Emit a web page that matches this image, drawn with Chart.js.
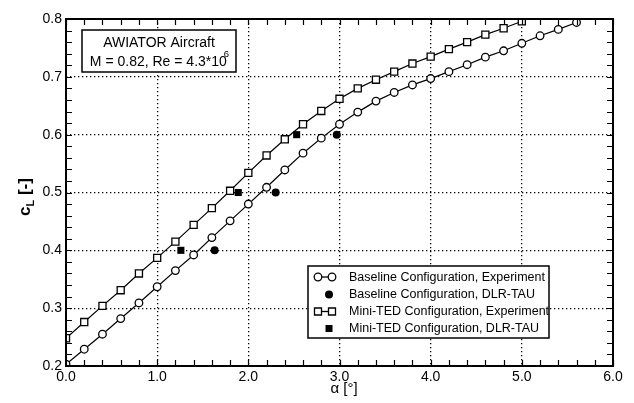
<!DOCTYPE html>
<html>
<head>
<meta charset="utf-8">
<script src="https://cdn.jsdelivr.net/npm/chart.js@4.4.0/dist/chart.umd.min.js"></script>
<style>
  html, body { margin: 0; padding: 0; background: #fff; }
  #wrap { width: 634px; height: 403px; }
</style>
</head>
<body>
<div id="wrap"><canvas id="cl-chart"></canvas></div>
<script>
// angle of attack [deg] and lift coefficient
const baseAlpha = [0.0, 0.2, 0.4, 0.6, 0.8, 1.0, 1.2, 1.4, 1.6, 1.8, 2.0, 2.2, 2.4, 2.6, 2.8,
                   3.0, 3.2, 3.4, 3.6, 3.8, 4.0, 4.2, 4.4, 4.6, 4.8, 5.0, 5.2, 5.4, 5.6];
const baseCL = [0.203, 0.229, 0.255, 0.282, 0.309, 0.337, 0.365, 0.392, 0.422, 0.451, 0.480, 0.509, 0.539, 0.568, 0.594,
                0.618, 0.639, 0.658, 0.673, 0.686, 0.697, 0.709, 0.721, 0.734, 0.745, 0.758, 0.771, 0.782, 0.794];

const tedAlpha = [0.0, 0.2, 0.4, 0.6, 0.8, 1.0, 1.2, 1.4, 1.6, 1.8, 2.0, 2.2, 2.4, 2.6, 2.8,
                  3.0, 3.2, 3.4, 3.6, 3.8, 4.0, 4.2, 4.4, 4.6, 4.8, 5.0];
const tedCL = [0.248, 0.276, 0.304, 0.331, 0.360, 0.387, 0.415, 0.444, 0.473, 0.503, 0.534, 0.564, 0.592, 0.618, 0.641,
               0.662, 0.680, 0.695, 0.709, 0.723, 0.735, 0.748, 0.760, 0.773, 0.784, 0.796];

const baseTauAlpha = [1.63, 2.30, 2.97];
const baseTauCL = [0.4, 0.5, 0.6];
const tedTauAlpha = [1.26, 1.89, 2.53];
const tedTauCL = [0.4, 0.5, 0.6];

const labels = ["Baseline Configuration, Experiment", "Baseline Configuration, DLR-TAU",
                "Mini-TED Configuration, Experiment", "Mini-TED Configuration, DLR-TAU"];

const xTicks = [0, 1, 2, 3, 4, 5, 6];
const yTicks = [0.2, 0.3, 0.4, 0.5, 0.6, 0.7, 0.8];

const FONT = "'Liberation Sans', Arial, Helvetica, sans-serif";

function pts(xs, ys) {
  return xs.map((x, i) => ({ x: x, y: ys[i] }));
}

// frame, inward minor ticks, text box, legend and axis titles
const decorations = {
  id: 'decorations',
  afterDraw(chart) {
    const ctx = chart.ctx;
    const a = chart.chartArea;
    const xs = chart.scales.x, ys = chart.scales.y;
    ctx.save();
    ctx.strokeStyle = '#000';
    ctx.fillStyle = '#000';

    // ticks every 0.2 deg and every 0.02 cL
    ctx.lineWidth = 1.2;
    ctx.beginPath();
    for (let i = 0; i <= 30; i++) {
      const px = Math.round(xs.getPixelForValue(i * 0.2)) + 0.5;
      ctx.moveTo(px, a.bottom); ctx.lineTo(px, a.bottom - 6);
      ctx.moveTo(px, a.top); ctx.lineTo(px, a.top + 6);
    }
    for (let i = 0; i <= 30; i++) {
      const py = Math.round(ys.getPixelForValue(0.2 + i * 0.02)) + 0.5;
      ctx.moveTo(a.left, py); ctx.lineTo(a.left + 6, py);
      ctx.moveTo(a.right, py); ctx.lineTo(a.right - 6, py);
    }
    ctx.stroke();

    ctx.lineWidth = 2;
    ctx.strokeRect(a.left, a.top, a.right - a.left, a.bottom - a.top);

    // info box
    ctx.fillStyle = '#fff';
    ctx.fillRect(82, 30, 154, 42);
    ctx.lineWidth = 1.5;
    ctx.strokeRect(82, 30, 154, 42);
    ctx.fillStyle = '#000';
    ctx.font = '14px ' + FONT;
    ctx.textAlign = 'center';
    ctx.textBaseline = 'middle';
    ctx.fillText('AWIATOR Aircraft', 159, 43);
    ctx.textAlign = 'left';
    const main = 'M = 0.82, Re = 4.3*10';
    const w1 = ctx.measureText(main).width;
    ctx.font = '9.5px ' + FONT;
    const w2 = ctx.measureText('6').width;
    const x0 = 161 - (w1 + w2) / 2;
    ctx.font = '14px ' + FONT;
    ctx.fillText(main, x0, 62);
    ctx.font = '9.5px ' + FONT;
    ctx.fillText('6', x0 + w1 - 3, 54);

    // legend
    const lx = 308, ly = 266, lw = 241, lh = 72;
    ctx.fillStyle = '#fff';
    ctx.fillRect(lx, ly, lw, lh);
    ctx.lineWidth = 1.5;
    ctx.strokeRect(lx, ly, lw, lh);
    const rows = [277, 294.5, 311.5, 328.5];
    chart.data.datasets.forEach((ds, i) => {
      const y = rows[i];
      ctx.lineWidth = 1.3;
      ctx.strokeStyle = '#000';
      if (ds.showLine) {
        ctx.beginPath();
        ctx.moveTo(318, y); ctx.lineTo(332, y);
        ctx.stroke();
        [318, 332].forEach(px => {
          ctx.fillStyle = '#fff';
          ctx.beginPath();
          if (ds.pointStyle === 'circle') {
            ctx.arc(px, y, 3.8, 0, Math.PI * 2);
          } else {
            ctx.rect(px - 3.5, y - 3.5, 7, 7);
          }
          ctx.fill();
          ctx.stroke();
        });
      } else {
        ctx.fillStyle = '#000';
        ctx.beginPath();
        if (ds.pointStyle === 'circle') {
          ctx.arc(329, y, 4, 0, Math.PI * 2);
        } else {
          ctx.rect(325.5, y - 3.5, 7, 7);
        }
        ctx.fill();
      }
      ctx.fillStyle = '#000';
      ctx.font = '12.5px ' + FONT;
      ctx.textAlign = 'left';
      ctx.textBaseline = 'middle';
      ctx.fillText(ds.label, 349, y + 0.5);
    });

    // x title
    ctx.font = '15px ' + FONT;
    ctx.textAlign = 'center';
    ctx.textBaseline = 'middle';
    ctx.fillText('\u03b1 [\u00b0]', 344, 389);

    // y title, c with subscript L
    ctx.translate(24, 197);
    ctx.rotate(-Math.PI / 2);
    ctx.font = 'bold 17px ' + FONT;
    const wc = ctx.measureText('c').width;
    const wr = ctx.measureText(' [-]').width;
    ctx.font = 'bold 11px ' + FONT;
    const wl = ctx.measureText('L').width;
    let sx = -(wc + wl + wr) / 2;
    ctx.textAlign = 'left';
    ctx.textBaseline = 'alphabetic';
    ctx.font = 'bold 17px ' + FONT;
    ctx.fillText('c', sx, 6);
    ctx.font = 'bold 11px ' + FONT;
    ctx.fillText('L', sx + wc, 10);
    ctx.font = 'bold 17px ' + FONT;
    ctx.fillText(' [-]', sx + wc + wl, 6);
    ctx.restore();
  }
};

new Chart(document.getElementById('cl-chart'), {
  type: 'scatter',
  data: {
    datasets: [
      {
        label: labels[0],
        data: pts(baseAlpha, baseCL),
        showLine: true,
        borderColor: '#000',
        borderWidth: 1.2,
        pointStyle: 'circle',
        pointRadius: 3.8,
        pointBorderWidth: 1.3,
        pointBackgroundColor: '#fff',
        pointBorderColor: '#000'
      },
      {
        label: labels[1],
        data: pts(baseTauAlpha, baseTauCL),
        showLine: false,
        pointStyle: 'circle',
        pointRadius: 4,
        pointBorderWidth: 0,
        pointBackgroundColor: '#000',
        pointBorderColor: '#000'
      },
      {
        label: labels[2],
        data: pts(tedAlpha, tedCL),
        showLine: true,
        borderColor: '#000',
        borderWidth: 1.2,
        pointStyle: 'rect',
        pointRadius: 5,
        pointBorderWidth: 1.3,
        pointBackgroundColor: '#fff',
        pointBorderColor: '#000'
      },
      {
        label: labels[3],
        data: pts(tedTauAlpha, tedTauCL),
        showLine: false,
        pointStyle: 'rect',
        pointRadius: 5,
        pointBorderWidth: 0,
        pointBackgroundColor: '#000',
        pointBorderColor: '#000'
      }
    ]
  },
  options: {
    responsive: true,
    maintainAspectRatio: false,
    animation: false,
    layout: { padding: { top: 19, right: 21, left: 0, bottom: 0 } },
    plugins: {
      legend: { display: false },
      tooltip: { enabled: false }
    },
    scales: {
      x: {
        type: 'linear',
        min: 0,
        max: 6,
        afterFit(scale) { scale.height = 37; },
        afterBuildTicks(scale) { scale.ticks = xTicks.map(v => ({ value: v })); },
        ticks: {
          padding: 3,
          color: '#000',
          font: { family: FONT, size: 14 },
          maxRotation: 0,
          autoSkip: false,
          callback: v => v.toFixed(1)
        },
        grid: { color: '#000', lineWidth: 1.3, drawTicks: false },
        border: { display: false, dash: [1.3, 2.7] }
      },
      y: {
        type: 'linear',
        min: 0.2,
        max: 0.8,
        afterFit(scale) { scale.width = 66; },
        afterBuildTicks(scale) { scale.ticks = yTicks.map(v => ({ value: v })); },
        ticks: {
          padding: 4,
          color: '#000',
          font: { family: FONT, size: 14 },
          callback: v => v.toFixed(1)
        },
        grid: { color: '#000', lineWidth: 1.3, drawTicks: false },
        border: { display: false, dash: [1.3, 2.7] }
      }
    }
  },
  plugins: [decorations]
});
</script>
</body>
</html>
